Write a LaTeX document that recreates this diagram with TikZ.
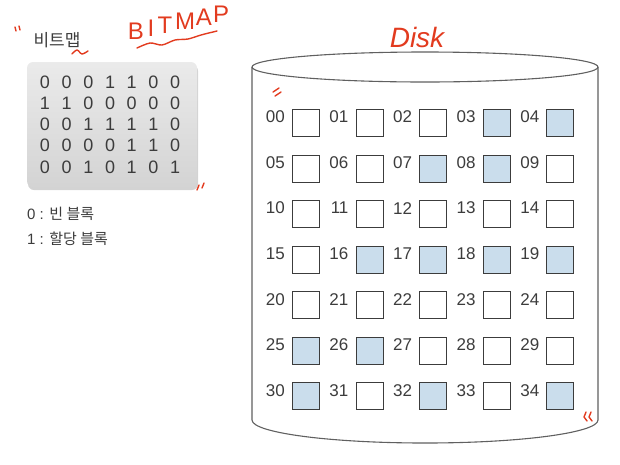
\documentclass[tikz,border=0pt]{standalone}
\usepackage{fontspec}
\setmainfont{Liberation Sans}
\newfontfamily\krfont{Noto Sans CJK KR}
\usetikzlibrary{shadows}

\definecolor{inkgray}{HTML}{3C3C3C}
\definecolor{cylgray}{HTML}{606060}
\definecolor{usedblue}{HTML}{CADDEC}
\definecolor{penred}{HTML}{E23B1F}

\tikzset{
  block/.style={draw=inkgray, line width=1.1pt, minimum size=27pt, inner sep=0pt},
  blocklabel/.style={text=inkgray, font=\fontsize{17}{17}\selectfont, anchor=east, inner sep=0pt},
  bitdigit/.style={text=inkgray, font=\fontsize{18}{18}\selectfont, inner sep=0pt},
  legend/.style={text=inkgray, font=\fontsize{15}{15}\selectfont, anchor=west, inner sep=0pt},
  cyl/.style={draw=cylgray, line width=1.1pt},
  pen/.style={penred, line width=1.4pt, line cap=round, line join=round},
  penletter/.style={penred, font=\fontsize{24}{24}\selectfont, inner sep=0pt},
}

\begin{document}
\begin{tikzpicture}[x=1pt, y=-1pt]
  \useasboundingbox (0,0) rectangle (620,464);

  \def\bitmap{{0,0,0,1,1,0,0,1,1,0,0,0,0,0,0,0,1,1,1,1,0,0,0,0,0,1,1,0,0,0,1,0,1,0,1}}

  % bitmap
  \node[text=inkgray, font=\krfont\fontsize{17}{17}\selectfont, inner sep=0pt] (title) at (57,40) {비트맵};
  \node[rounded corners=6pt, top color=black!8, bottom color=black!17, minimum width=170pt, minimum height=125pt,
        drop shadow={shadow xshift=1pt, shadow yshift=-3pt, opacity=.35}] (bitbox) at (112,124.5) {};
  \foreach \r in {0,...,4}
    \foreach \c in {0,...,6}
    {
      \pgfmathtruncatemacro\idx{\r*7+\c}
      \pgfmathtruncatemacro\bitval{\bitmap[\idx]}
      \node[bitdigit] (bit\idx) at (45+21.67*\c, 82+21.25*\r) {\bitval};
    }
  \node[legend] (free) at (27,214) {0 : {\krfont 빈 블록}};
  \node[legend] (used) at (27,239) {1 : {\krfont 할당 블록}};

  % disk
  \draw[cyl] (425,67) ellipse [x radius=173, y radius=15];
  \draw[cyl] (252,67) -- (252,420) arc [start angle=180, end angle=0, x radius=173, y radius=23] -- (598,67);
  \foreach \r in {0,...,6}
    \foreach \c in {0,...,4}
    {
      \pgfmathtruncatemacro\idx{\r*5+\c}
      \pgfmathtruncatemacro\used{\bitmap[\idx]}
      \ifnum\used=1 \def\blkfill{usedblue}\else\def\blkfill{white}\fi
      \node[block, fill=\blkfill] (blk\idx) at (306+63.6*\c, 123+45.55*\r) {};
      \node[blocklabel] (lbl\idx) at (285+63.6*\c, 117+45.55*\r) {\ifnum\idx<10 0\fi\idx};
    }

  % red pen notes
  \foreach \ch/\px/\py [count=\k] in {B/136/31, I/151/28, T/165/25, M/185/21, A/204/17, P/221/14}
    \node[penletter] (bitnote\k) at (\px,\py) {\ch};
  \node[penred, font=\itshape\fontsize{28}{28}\selectfont, inner sep=0pt] (disknote) at (417,37) {Disk};
  \draw[pen] plot[smooth] coordinates {(137,48) (150,43) (162,45) (175,40) (188,39) (201,35) (217,31)};
  \draw[pen] plot[smooth] coordinates {(72,54) (77,50) (82,54) (88,51)};
  \draw[pen] (15,27) -- (16,31) (19,26) -- (20,30);
  \draw[pen] (199,185) -- (197,190) (204,183) -- (202,188);
  \draw[pen] (273,92) -- (279,88) (275,96) -- (281,92);
  \draw[pen] (586,412) -- (584,417) -- (587,421) (591,412) -- (589,417) -- (592,421);
\end{tikzpicture}
\end{document}
